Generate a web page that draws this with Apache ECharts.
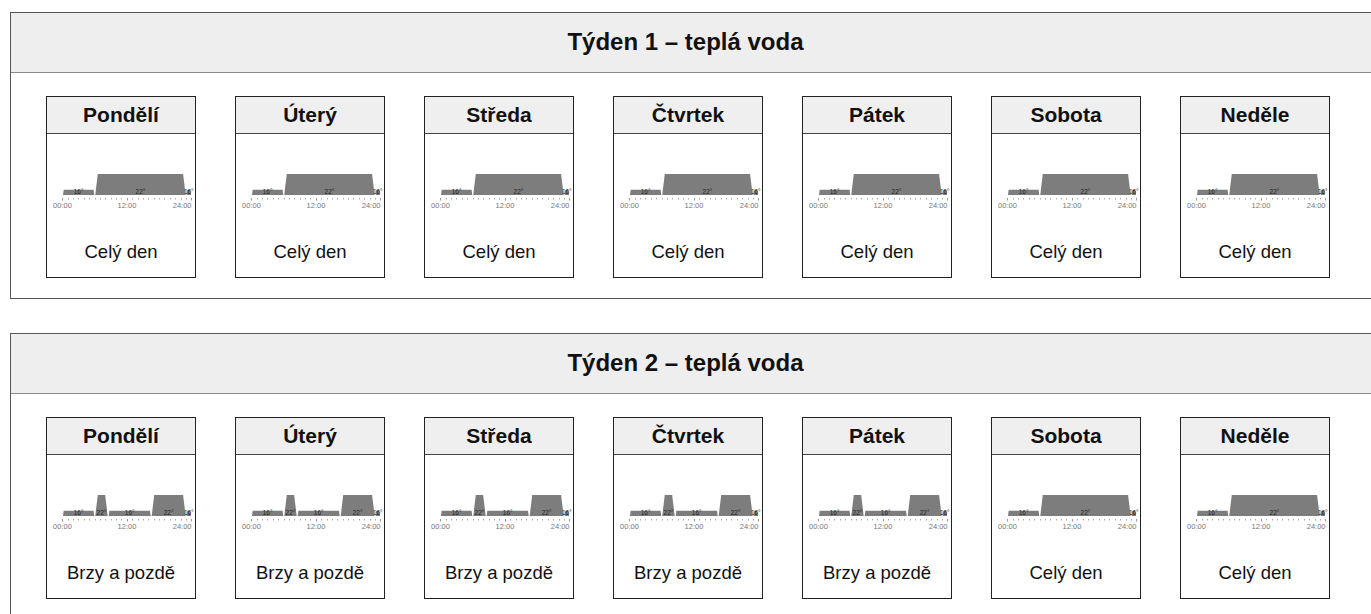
<!DOCTYPE html>
<html>
<head>
<meta charset="utf-8">
<script src="https://cdn.jsdelivr.net/npm/echarts@6/dist/echarts.min.js"></script>
<style>
  html, body { margin: 0; padding: 0; background: #fff; width: 1371px; height: 614px; overflow: hidden; font-family: Arial, "Liberation Sans", Helvetica, sans-serif; }
  .panel { position: absolute; left: 10px; width: 1420px; border: 1px solid #555; box-sizing: border-box; background: #fff; }
  .panel-head { position: absolute; left: 0; top: 0; right: 0; height: 60px; background: #eeeeee; border-bottom: 1px solid #8a8a8a; box-sizing: border-box; }
  .panel-title { position: absolute; left: 0; width: 1371px; height: 60px; line-height: 60px; text-align: center; font-weight: bold; font-size: 24px; color: #111; }
  .card { position: absolute; width: 150px; height: 182px; border: 1px solid #222; box-sizing: border-box; background: #fff; overflow: hidden; }
  .card-head { position: absolute; left: 0; top: 0; right: 0; height: 37px; background: #efefef; border-bottom: 1px solid #444; box-sizing: border-box; text-align: center; line-height: 36px; font-weight: bold; font-size: 21px; color: #111; }
  .chart { position: absolute; left: 0px; top: 39px; width: 148px; height: 80px; }
  .prog { position: absolute; left: 0; right: 0; top: 144px; height: 22px; line-height: 22px; text-align: center; font-size: 18.5px; color: #111; }
</style>
</head>
<body>
<script>
// ---- data ----
const weekTitles = ['Týden 1 – teplá voda', 'Týden 2 – teplá voda'];
const days = ['Pondělí', 'Úterý', 'Středa', 'Čtvrtek', 'Pátek', 'Sobota', 'Neděle'];
const week1Programs = ['Celý den', 'Celý den', 'Celý den', 'Celý den', 'Celý den', 'Celý den', 'Celý den'];
const week2Programs = ['Brzy a pozdě', 'Brzy a pozdě', 'Brzy a pozdě', 'Brzy a pozdě', 'Brzy a pozdě', 'Celý den', 'Celý den'];
// program segments: start hour, end hour, temperature
const celyDenStart = [0, 6, 23];
const celyDenEnd   = [6, 23, 24];
const celyDenTemp  = [16, 22, 16];
const brzyStart = [0, 6, 8.5, 16.5, 23];
const brzyEnd   = [6, 8.5, 16.5, 23, 24];
const brzyTemp  = [16, 22, 16, 22, 16];
const hourTicks = [0, 12, 24];
const hourLabels = ['00:00', '12:00', '24:00'];

const programs = {
  'Celý den': { start: celyDenStart, end: celyDenEnd, temp: celyDenTemp },
  'Brzy a pozdě': { start: brzyStart, end: brzyEnd, temp: brzyTemp }
};
const weekPrograms = [week1Programs, week2Programs];

// ---- layout ----
const panelTops = [12, 333];
const panelHeights = [287, 320];
const cardLeft0 = 46, cardPitch = 189, cardTopOffset = 84;

function el(tag, cls, parent, styles, text) {
  const e = document.createElement(tag);
  if (cls) e.className = cls;
  Object.assign(e.style, styles || {});
  if (text !== undefined) e.textContent = text;
  parent.appendChild(e);
  return e;
}

function renderSeg(params, api) {
  const s = api.value(0), e = api.value(1), t = api.value(2);
  const pb = api.coord([s, 14]);
  const pt = api.coord([e, t]);
  const x0 = pb[0] + 0.5, x1 = pt[0] - 0.5, yb = pb[1], yt = pt[1];
  const h = yb - yt, r = h * 0.12;
  return {
    type: 'group',
    children: [
      { type: 'polygon', shape: { points: [[x0, yb], [x0 + r, yt], [x1 - r, yt], [x1, yb]] }, style: { fill: '#7d7d7d' } },
      { type: 'text', style: { text: t + '°', x: (x0 + x1) / 2, y: yb - 4, align: 'center', verticalAlign: 'middle', fontSize: 6.5, fill: '#222', fontFamily: 'Arial, "Liberation Sans", sans-serif' } }
    ]
  };
}

weekTitles.forEach((title, w) => {
  const panel = el('div', 'panel', document.body, { top: panelTops[w] + 'px', height: panelHeights[w] + 'px' });
  el('div', 'panel-head', panel);
  el('div', 'panel-title', document.body, { top: panelTops[w] + 'px' }, title);
  days.forEach((day, d) => {
    const left = cardLeft0 + d * cardPitch;
    const top = panelTops[w] + cardTopOffset;
    const card = el('div', 'card', document.body, { left: left + 'px', top: top + 'px' });
    el('div', 'card-head', card, {}, day);
    const chartDiv = el('div', 'chart', card);
    const progName = weekPrograms[w][d];
    el('div', 'prog', card, {}, progName);
    const prog = programs[progName];
    const data = prog.start.map((s, i) => [s, prog.end[i], prog.temp[i]]);
    const chart = echarts.init(chartDiv, null, { renderer: 'svg' });
    chart.setOption({
      animation: false,
      grid: { left: 15.5, width: 129, top: 38, height: 21, containLabel: false, outerBoundsMode: 'none' },
      xAxis: {
        type: 'value', min: 0, max: 24, interval: 12,
        axisLine: { show: false },
        offset: 3,
        axisTick: { show: true, length: 2.5, lineStyle: { color: '#999', width: 1 } },
        minorTick: { show: true, splitNumber: 12, length: 1.5, lineStyle: { color: '#aaa', width: 1 } },
        splitLine: { show: false },
        axisLabel: { fontSize: 7.5, color: '#777', margin: 3, alignMaxLabel: 'right', fontFamily: 'Arial, "Liberation Sans", sans-serif',
          formatter: v => hourLabels[hourTicks.indexOf(v)] || '' }
      },
      yAxis: { type: 'value', min: 14, max: 22, show: false },
      series: [{ type: 'custom', renderItem: renderSeg, data: data, clip: false, encode: { x: [0, 1], y: 2 } }]
    });
  });
});
</script>
</body>
</html>
